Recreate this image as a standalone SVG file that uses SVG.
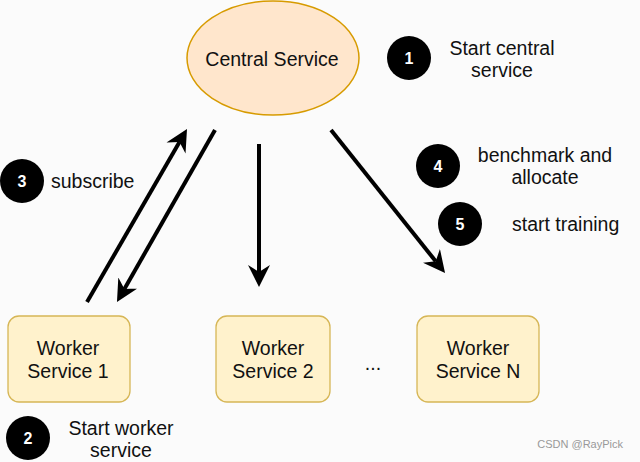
<svg xmlns="http://www.w3.org/2000/svg" width="640" height="462" viewBox="0 0 640 462">
  <defs>
    <style>
      text { font-family: "Liberation Sans", Arial, Helvetica, sans-serif; fill: #111; }
      .lbl { font-size: 19.5px; }
      .mid { text-anchor: middle; }
      .num { font-size: 16px; font-weight: bold; fill: #fff; text-anchor: middle; }
      .badge { fill: #000; }
      .worker { fill: #fff2cc; stroke: #d6b656; stroke-width: 1.3; }
      .edge { stroke: #000; stroke-width: 4; fill: none; marker-end: url(#arrow); }
    </style>
    <marker id="arrow" markerUnits="userSpaceOnUse" viewBox="0 0 22 22" markerWidth="22" markerHeight="22" refX="7" refY="11" orient="auto">
      <path d="M0,0 L22,11 L0,22 L7,11 Z" fill="#000"/>
    </marker>
  </defs>
  <rect width="640" height="462" fill="#fbfbfb"/>

  <g id="central">
    <ellipse cx="273" cy="58" rx="86" ry="57" fill="#ffe6cc" stroke="#d79b00" stroke-width="1.5"/>
    <text class="lbl mid" x="272" y="66">Central Service</text>
  </g>

  <g id="worker1">
    <rect class="worker" x="8" y="316" width="122" height="86" rx="11"/>
    <text class="lbl mid" x="68" y="355">Worker</text>
    <text class="lbl mid" x="68" y="378">Service 1</text>
  </g>
  <g id="worker2">
    <rect class="worker" x="216" y="316" width="114" height="86" rx="11"/>
    <text class="lbl mid" x="273" y="355">Worker</text>
    <text class="lbl mid" x="273" y="378">Service 2</text>
  </g>
  <g id="workerN">
    <rect class="worker" x="417" y="316" width="122" height="86" rx="11"/>
    <text class="lbl mid" x="478" y="355">Worker</text>
    <text class="lbl mid" x="478" y="378">Service N</text>
  </g>
  <g id="ellipsis">
    <text class="lbl mid" x="373" y="370">...</text>
  </g>

  <g id="step1">
    <circle class="badge" cx="409" cy="58" r="22"/>
    <text class="num" x="409" y="64">1</text>
    <text class="lbl mid" x="502" y="55">Start central</text>
    <text class="lbl mid" x="502" y="77">service</text>
  </g>
  <g id="step2">
    <circle class="badge" cx="28" cy="438" r="22"/>
    <text class="num" x="28" y="444">2</text>
    <text class="lbl mid" x="121" y="435">Start worker</text>
    <text class="lbl mid" x="121" y="457">service</text>
  </g>
  <g id="step3">
    <circle class="badge" cx="22" cy="181" r="22"/>
    <text class="num" x="22" y="187">3</text>
    <text class="lbl" x="51" y="188">subscribe</text>
  </g>
  <g id="step4">
    <circle class="badge" cx="438" cy="166" r="22"/>
    <text class="num" x="438" y="172">4</text>
    <text class="lbl mid" x="545" y="162">benchmark and</text>
    <text class="lbl mid" x="545" y="184">allocate</text>
  </g>
  <g id="step5">
    <circle class="badge" cx="460" cy="224" r="22"/>
    <text class="num" x="460" y="230">5</text>
    <text class="lbl" x="512" y="231">start training</text>
  </g>

  <g id="connectors">
    <line class="edge" x1="87" y1="302" x2="179.5" y2="142"/>
    <line class="edge" x1="215" y1="130" x2="124.4" y2="289"/>
    <line class="edge" x1="259" y1="144" x2="259" y2="272"/>
    <line class="edge" x1="331" y1="130" x2="435.7" y2="261.3"/>
  </g>

  <text x="623" y="448" text-anchor="end" style="font-size:11px;fill:#999">CSDN @RayPick</text>
</svg>
